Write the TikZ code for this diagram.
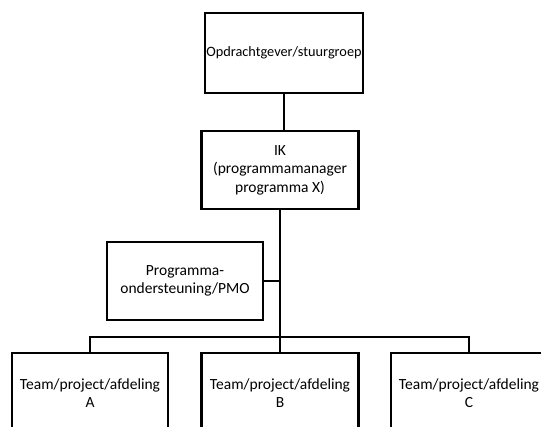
\documentclass[tikz,border=0pt]{standalone}
\usepackage{fontspec}
\setmainfont{Carlito}
\begin{document}
\begin{tikzpicture}[x=1pt,y=-1pt,
  box/.style={draw=black, line width=2.4pt, fill=white, align=center, inner sep=0pt,
    font=\fontsize{15.5}{18.5}\selectfont, text=black},
  conn/.style={draw=black, line width=2.4pt}]
\useasboundingbox (0,0) rectangle (541,426);
\clip (0,0) rectangle (541,426);
\node[box, minimum width=158pt, minimum height=80pt, font=\fontsize{14.3}{18}\selectfont] (top) at (284,53) {Opdrachtgever/stuurgroep};
\node[box, minimum width=157pt, minimum height=78pt] (ik) at (280,170) {IK\\(programmamanager\\programma X)};
\node[box, minimum width=156pt, minimum height=78pt] (pmo) at (185,281) {Programma-\\ondersteuning/PMO};
\node[box, minimum width=156pt, minimum height=80pt] (a) at (90,393) {Team/project/afdeling\\A};
\node[box, minimum width=157pt, minimum height=80pt] (b) at (280,393) {Team/project/afdeling\\B};
\node[box, minimum width=156pt, minimum height=80pt] (c) at (469,393) {Team/project/afdeling\\C};
\coordinate (bus) at (280,337);
\draw[conn] (top.south) -- (top.south |- ik.north);
\draw[conn] (ik.south) -- (b.north);
\draw[conn] (pmo.east) -- (pmo.east -| ik.south);
\draw[conn] (a.north) |- (bus) -| (c.north);
\end{tikzpicture}
\end{document}
